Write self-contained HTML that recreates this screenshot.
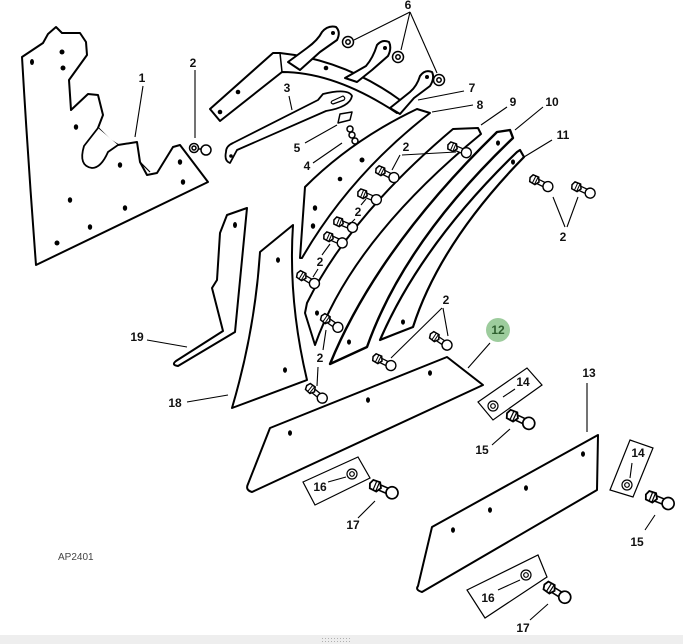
<!DOCTYPE html>
<html><head><meta charset="utf-8"><style>
html,body{margin:0;padding:0;background:#fff;}
body{width:683px;height:644px;overflow:hidden;position:relative;}
svg{position:absolute;left:0;top:0;}
text{font-family:"Liberation Sans",sans-serif;font-size:12px;font-weight:bold;fill:#111;}
</style></head><body>
<svg width="683" height="644" viewBox="0 0 683 644" xmlns="http://www.w3.org/2000/svg">
<defs>
<g id="bolt">
<rect x="3" y="-2.3" width="8" height="4.6" fill="#fff" stroke="#000" stroke-width="1.3"/>
<path d="M-4,-3.8 L2,-4.2 L4.5,0 L2,4.2 L-4,3.8 L-5.5,0 Z" fill="#fff" stroke="#000" stroke-width="1.5"/>
<line x1="-1" y1="-4" x2="-1" y2="4" stroke="#000" stroke-width="1"/>
<line x1="1.5" y1="-4" x2="1.5" y2="4" stroke="#000" stroke-width="1"/>
<circle cx="14.5" cy="0" r="5" fill="#fff" stroke="#000" stroke-width="1.4"/>
</g>
</defs>
<rect x="0" y="0" width="683" height="644" fill="#fff"/>

<g fill="#fff" stroke="#000" stroke-width="2" stroke-linejoin="round">
<!-- Part 1 -->
<path d="M22,57 L43,43 L48,34 L56,27 L62,33 L80,33 L86,42 L87,55 L69,80 L71,110 L88,94 L98,95 L103,115 L98,128 L110,140 L118,145 L137,142 L140,162 L147,175 L157,173 L173,147 L180,145 L208,182 L36,265 Q28,160 22,57 Z"/>
<path d="M98,128 L84,146 Q78,166 92,168 Q101,168 108,152 L118,145" stroke-width="1.8"/>
<path d="M140,162 L150,172" fill="none" stroke-width="1.2"/>
<!-- Part 7 band -->
<path d="M210,109 L273,53 L280,53 Q345,60 400,100 L397,113 Q335,72 282,72 L220,121 Z"/>
<line x1="280" y1="53" x2="282" y2="72" stroke-width="1.5"/>
<path d="M288,62 L307,48 Q318,40 322,32 Q328,25 336,27 Q341,32 337,40 L320,52 L300,70 Z"/>
<path d="M345,78 L366,66 Q373,58 377,45 Q382,39 389,42 Q392,48 388,56 L372,70 L357,82 Z"/>
<path d="M390,108 L410,92 Q417,86 420,76 Q425,69 432,72 Q435,78 430,86 L414,98 L400,114 Z"/>
<!-- Part 3 link -->
<path d="M226,152 Q224,161 230,163 L237,150 L326,111 Q350,107 352,96 Q348,88 323,94 L318,100 L233,143 Q226,146 226,152 Z" stroke-width="1.8"/>
<path d="M332,101 L343,96 Q346,98 344,100 L333,104 Q330,103 332,101 Z" stroke-width="1.2"/>
<!-- Part 5 -->
<path d="M340,114 L352,112 L350,120 L338,123 Z" stroke-width="1.5"/>
<!-- Part 8 -->
<path d="M305,187 Q352,140 417,109 L430,113 Q350,175 302,258 L300,258 Z"/>
<!-- Part 9 -->
<path d="M453,129 L478,128 L481,134 Q352,240 315,345 L305,313 L307,303 Q350,216 453,129 Z"/>
<!-- Part 10 -->
<path d="M497,132 L510,130 L513,138 Q404,242 367,347 L330,364 Q377,249 497,132 Z" stroke-width="2.4"/>
<!-- Part 11 -->
<path d="M517,152 L520,150 L524,157 Q440,243 413,327 L395,334 L380,340 Q421,245 517,152 Z" stroke-width="2.2"/>
<!-- Part 19 -->
<path d="M227,215 L247,208 L235,332 L178,366 Q171,365 176,361 L223,331 L212,288 L217,280 L220,233 Z"/>
<!-- Part 18 -->
<path d="M293,225 L260,252 Q255,330 232,408 L307,380 Q288,300 293,225 Z"/>
<!-- Part 12 -->
<path d="M270,428 L447,357 L483,385 L252,492 Q245,490 248,484 Z"/>
<!-- Part 13 -->
<path d="M432,527 L598,435 L597,490 L422,592 Q415,590 418,586 Z"/>
</g>

<!-- holes -->
<g fill="#000">
<ellipse cx="32" cy="62" rx="2" ry="3"/><ellipse cx="62" cy="52" rx="2.5" ry="2.5"/><ellipse cx="63" cy="68" rx="2.5" ry="2.5"/>
<ellipse cx="76" cy="127" rx="2.2" ry="2.8"/><ellipse cx="120" cy="165" rx="2.2" ry="2.8"/><ellipse cx="180" cy="162" rx="2.2" ry="2.8"/>
<ellipse cx="183" cy="182" rx="2.2" ry="2.8"/><ellipse cx="70" cy="200" rx="2.2" ry="2.8"/><ellipse cx="125" cy="208" rx="2.2" ry="2.8"/>
<ellipse cx="90" cy="227" rx="2.2" ry="2.8"/><ellipse cx="57" cy="243" rx="2.5" ry="2.5"/>
<circle cx="238" cy="92" r="2.3"/><circle cx="220" cy="112" r="2.3"/><circle cx="326" cy="68" r="2.3"/>
<circle cx="333" cy="33" r="2"/><circle cx="385" cy="48" r="2"/><circle cx="427" cy="77" r="2"/>
<circle cx="231" cy="156" r="1.8"/>
<circle cx="362" cy="160" r="2.5"/><circle cx="340" cy="179" r="2.3"/><ellipse cx="315" cy="208" rx="2.2" ry="2.8"/><ellipse cx="313" cy="226" rx="2.2" ry="2.8"/>
<ellipse cx="317" cy="313" rx="2" ry="2.6"/><ellipse cx="349" cy="342" rx="2" ry="2.6"/><ellipse cx="498" cy="143" rx="2" ry="2.6"/>
<ellipse cx="513" cy="162" rx="2" ry="2.6"/><ellipse cx="403" cy="322" rx="2" ry="2.6"/>
<ellipse cx="235" cy="225" rx="2" ry="3"/><ellipse cx="278" cy="260" rx="2" ry="2.8"/><ellipse cx="285" cy="370" rx="2" ry="2.8"/>
<ellipse cx="290" cy="433" rx="2" ry="2.8"/><ellipse cx="368" cy="400" rx="2" ry="2.8"/><ellipse cx="430" cy="373" rx="2" ry="2.8"/>
<ellipse cx="583" cy="454" rx="2" ry="2.8"/><ellipse cx="526" cy="488" rx="2" ry="2.8"/><ellipse cx="490" cy="510" rx="2" ry="2.8"/><ellipse cx="453" cy="530" rx="2" ry="2.8"/>
</g>

<!-- washers 6 -->
<g fill="#fff" stroke="#000" stroke-width="1.5">
<circle cx="348" cy="42" r="5.5"/><circle cx="348" cy="42" r="2.2"/>
<circle cx="398" cy="57" r="5.5"/><circle cx="398" cy="57" r="2.2"/>
<circle cx="439" cy="80" r="5.5"/><circle cx="439" cy="80" r="2.2"/>
<!-- part 4 -->
<circle cx="350" cy="129" r="3"/><circle cx="352" cy="135" r="3"/><circle cx="355" cy="141" r="3"/>
<!-- top-left bolt 2 -->
<circle cx="194" cy="148" r="4.5"/><circle cx="194" cy="148" r="2"/>
<circle cx="206" cy="150" r="5"/><line x1="198" y1="149" x2="201" y2="149"/>
</g>

<!-- boxes 14/16 -->
<g fill="#fff" stroke="#000" stroke-width="1.2">
<polygon points="478,402 527,368 542,385 493,420"/>
<polygon points="303,482 358,457 370,478 315,505"/>
<polygon points="630,440 653,448 633,497 610,490"/>
<polygon points="467,590 538,555 547,577 485,618"/>
<circle cx="493" cy="406" r="5"/><circle cx="493" cy="406" r="2.3"/>
<circle cx="352" cy="474" r="5"/><circle cx="352" cy="474" r="2.3"/>
<circle cx="627" cy="485" r="5"/><circle cx="627" cy="485" r="2.3"/>
<circle cx="526" cy="575" r="5"/><circle cx="526" cy="575" r="2.3"/>
</g>

<!-- bolts -->
<use href="#bolt" transform="translate(453,147) rotate(23)"/>
<use href="#bolt" transform="translate(381,171) rotate(27)"/>
<use href="#bolt" transform="translate(363,194) rotate(23)"/>
<use href="#bolt" transform="translate(339,222) rotate(22)"/>
<use href="#bolt" transform="translate(329,237) rotate(24)"/>
<use href="#bolt" transform="translate(302,276) rotate(31)"/>
<use href="#bolt" transform="translate(326,319) rotate(35)"/>
<use href="#bolt" transform="translate(311,389) rotate(39)"/>
<use href="#bolt" transform="translate(535,180) rotate(27)"/>
<use href="#bolt" transform="translate(577,187) rotate(25)"/>
<use href="#bolt" transform="translate(435,337) rotate(34)"/>
<use href="#bolt" transform="translate(378,359) rotate(27)"/>
<use href="#bolt" transform="translate(513,416) rotate(25) scale(1.2)"/>
<use href="#bolt" transform="translate(652,497) rotate(22) scale(1.2)"/>
<use href="#bolt" transform="translate(376,486) rotate(23) scale(1.2)"/>
<use href="#bolt" transform="translate(550,588) rotate(32) scale(1.2)"/>

<!-- leader lines -->
<g stroke="#000" stroke-width="1.1" fill="none">
<line x1="143" y1="86" x2="135" y2="137"/>
<line x1="195" y1="70" x2="195" y2="138"/>
<line x1="289" y1="96" x2="292" y2="110"/>
<line x1="313" y1="163" x2="342" y2="143"/>
<line x1="305" y1="143" x2="337" y2="125"/>
<line x1="410" y1="12" x2="354" y2="40"/>
<line x1="410" y1="12" x2="401" y2="50"/>
<line x1="410" y1="12" x2="437" y2="73"/>
<line x1="464" y1="91" x2="418" y2="100"/>
<line x1="473" y1="105" x2="432" y2="112"/>
<line x1="507" y1="107" x2="481" y2="125"/>
<line x1="543" y1="107" x2="515" y2="130"/>
<line x1="552" y1="140" x2="524" y2="157"/>
<line x1="400" y1="155" x2="392" y2="170"/>
<line x1="402" y1="155" x2="456" y2="152"/>
<line x1="361" y1="205" x2="366" y2="199"/>
<line x1="355" y1="219" x2="349" y2="225"/>
<line x1="322" y1="255" x2="330" y2="244"/>
<line x1="318" y1="269" x2="313" y2="277"/>
<line x1="323" y1="350" x2="326" y2="330"/>
<line x1="318" y1="367" x2="317" y2="386"/>
<line x1="565" y1="227" x2="553" y2="197"/>
<line x1="567" y1="227" x2="578" y2="197"/>
<line x1="443" y1="308" x2="448" y2="336"/>
<line x1="442" y1="308" x2="391" y2="358"/>
<line x1="147" y1="340" x2="187" y2="347"/>
<line x1="187" y1="402" x2="228" y2="395"/>
<line x1="490" y1="343" x2="468" y2="368"/>
<line x1="503" y1="397" x2="515" y2="389"/>
<line x1="492" y1="445" x2="510" y2="429"/>
<line x1="328" y1="482" x2="346" y2="477"/>
<line x1="358" y1="518" x2="375" y2="501"/>
<line x1="587" y1="383" x2="587" y2="432"/>
<line x1="632" y1="463" x2="630" y2="478"/>
<line x1="645" y1="530" x2="655" y2="515"/>
<line x1="498" y1="590" x2="520" y2="580"/>
<line x1="530" y1="620" x2="548" y2="604"/>
</g>

<!-- labels -->
<g text-anchor="middle">
<text x="142" y="82">1</text>
<text x="193" y="67">2</text>
<text x="287" y="92">3</text>
<text x="307" y="170">4</text>
<text x="297" y="152">5</text>
<text x="408" y="9">6</text>
<text x="472" y="92">7</text>
<text x="480" y="109">8</text>
<text x="513" y="106">9</text>
<text x="552" y="106">10</text>
<text x="563" y="139">11</text>
<text x="406" y="151">2</text>
<text x="358" y="216">2</text>
<text x="320" y="266">2</text>
<text x="320" y="362">2</text>
<text x="563" y="241">2</text>
<text x="446" y="304">2</text>
<text x="137" y="341">19</text>
<text x="175" y="407">18</text>
<text x="523" y="386">14</text>
<text x="482" y="454">15</text>
<text x="320" y="491">16</text>
<text x="353" y="529">17</text>
<text x="589" y="377">13</text>
<text x="638" y="457">14</text>
<text x="637" y="546">15</text>
<text x="488" y="602">16</text>
<text x="523" y="632">17</text>
</g>
<circle cx="498" cy="330" r="12" fill="#9dcc9d"/>
<text x="498" y="334" text-anchor="middle" style="fill:#2e5e2e;font-size:12px">12</text>

<text x="58" y="560" style="font-size:10px;font-weight:normal;fill:#444">AP2401</text>

<rect x="0" y="635" width="683" height="9" fill="#eeeeee"/>
<g fill="#b0b0b0">
<rect x="322" y="638" width="1" height="1"/><rect x="325" y="638" width="1" height="1"/><rect x="328" y="638" width="1" height="1"/><rect x="331" y="638" width="1" height="1"/><rect x="334" y="638" width="1" height="1"/><rect x="337" y="638" width="1" height="1"/><rect x="340" y="638" width="1" height="1"/><rect x="343" y="638" width="1" height="1"/><rect x="346" y="638" width="1" height="1"/><rect x="349" y="638" width="1" height="1"/>
<rect x="322" y="641" width="1" height="1"/><rect x="325" y="641" width="1" height="1"/><rect x="328" y="641" width="1" height="1"/><rect x="331" y="641" width="1" height="1"/><rect x="334" y="641" width="1" height="1"/><rect x="337" y="641" width="1" height="1"/><rect x="340" y="641" width="1" height="1"/><rect x="343" y="641" width="1" height="1"/><rect x="346" y="641" width="1" height="1"/><rect x="349" y="641" width="1" height="1"/>
</g>
</svg>
</body></html>
